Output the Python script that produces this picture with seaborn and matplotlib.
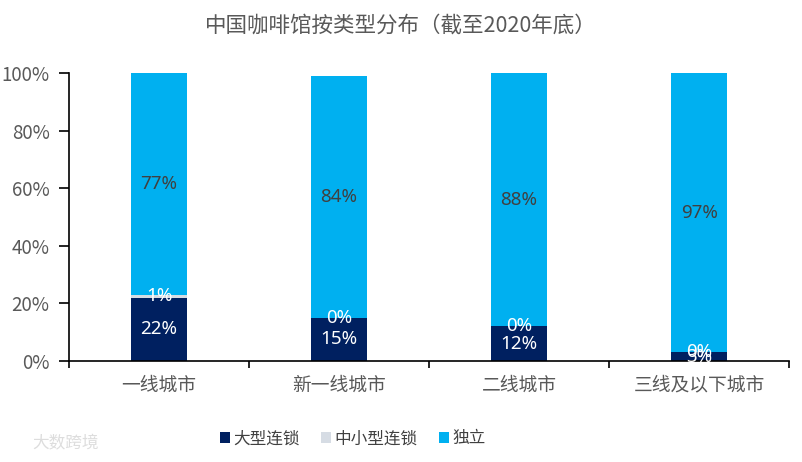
import matplotlib
matplotlib.use('Agg')
import matplotlib.pyplot as plt
import seaborn as sns
import pandas as pd
import numpy as np

categories = ['一线城市', '新一线城市', '二线城市', '三线及以下城市']
large_chain = [22, 15, 12, 3]
small_chain = [1, 0, 0, 0]
independent = [77, 84, 88, 97]
series_names = ['大型连锁', '中小型连锁', '独立']
colors = ['#002060', '#D6DCE4', '#00B0F0']

sns.set_theme(style='white')
plt.rcParams['font.family'] = ['Noto Sans CJK SC', 'DejaVu Sans']

df = pd.DataFrame({'city': categories,
                   series_names[0]: large_chain,
                   series_names[1]: small_chain,
                   series_names[2]: independent})

fig = plt.figure(figsize=(8.02, 4.62), dpi=100)
ax = fig.add_axes([0.086, 0.219, 0.898, 0.623])

bottom = np.zeros(len(categories))
text_colors = ['white', 'white', '#404040']
for i, name in enumerate(series_names):
    vals = df[name].values / 100.0
    sns.barplot(x=df['city'], y=vals, bottom=bottom, color=colors[i], width=0.31,
                ax=ax, label=name, saturation=1, linewidth=0)
    for j, v in enumerate(vals):
        ax.text(j, bottom[j] + v / 2, '%d%%' % round(v * 100), ha='center', va='center',
                fontsize=13.5, color=text_colors[i], family=['Noto Sans', 'DejaVu Sans'])
    bottom = bottom + vals

handles, labels = ax.get_legend_handles_labels()
if ax.get_legend() is not None:
    ax.get_legend().remove()

ax.set_ylim(0, 1.0)
ax.set_xlim(-0.5, 3.5)
ax.set_yticks(np.arange(0, 1.01, 0.2))
ax.set_yticklabels(['%d%%' % (t * 100) for t in np.arange(0, 1.01, 0.2)])
ax.set_xticks([-0.5, 0.5, 1.5, 2.5, 3.5], minor=True)
ax.set_xticks(range(4))
ax.tick_params(axis='x', which='major', length=0, pad=10, labelsize=13.5, labelcolor='#595959')
ax.tick_params(axis='x', which='minor', length=5, width=1.2, direction='out', bottom=True, color='black')
ax.tick_params(axis='y', length=7, width=1.2, direction='out', left=True, labelsize=13.5, pad=7,
               labelcolor='#595959', color='black')
ax.set_xlabel('')
ax.set_ylabel('')
for s in ['top', 'right']:
    ax.spines[s].set_visible(False)
for s in ['left', 'bottom']:
    ax.spines[s].set_color('black')
    ax.spines[s].set_linewidth(1.2)

fig.text(0.5, 0.945, '中国咖啡馆按类型分布（截至2020年底）', ha='center', va='center',
         fontsize=15.5, color='#595959')

leg = fig.legend(handles, labels, loc='center', bbox_to_anchor=(0.44, 0.05), ncol=3, frameon=False,
                 fontsize=12, handlelength=0.6, handleheight=0.6, handletextpad=0.2, columnspacing=1.3)
for t in leg.get_texts():
    t.set_color('#404040')

fig.text(0.04, 0.04, '大数跨境', ha='left', va='center', fontsize=12, color='#DDDDDD')

fig.savefig('out.png', dpi=100)
